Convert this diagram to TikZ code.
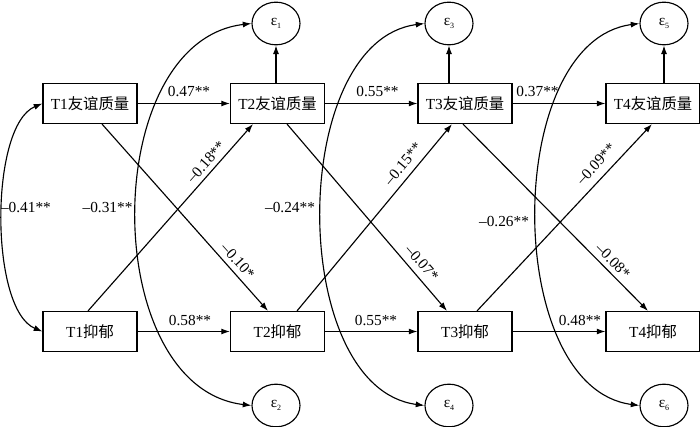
\documentclass[tikz,border=0pt]{standalone}
\usepackage{fontspec}
\setmainfont{Liberation Serif}
\newfontfamily\cjk{Noto Sans CJK SC}
\usetikzlibrary{arrows.meta,shapes.geometric,calc}
\newcommand\epsl[1]{ε\raisebox{-2pt}{\fontsize{6}{6}\selectfont #1}}
\begin{document}
\begin{tikzpicture}[x=0.75pt,y=-0.75pt,
  box/.style={draw,line width=0.85pt,minimum width=70.5pt,minimum height=30pt,inner sep=0pt,font=\fontsize{11.5}{13}\selectfont},
  err/.style={draw,ellipse,line width=0.85pt,minimum width=36pt,minimum height=32pt,inner sep=0pt,font=\fontsize{11.5}{13}\selectfont},
  lab/.style={inner sep=0pt,font=\fontsize{11.5}{13}\selectfont},
  arr/.style={line width=0.85pt,-{Latex[length=6.5pt,width=4.5pt]}},
  cov/.style={line width=0.85pt,{Latex[length=6.5pt,width=4.5pt]}-{Latex[length=6.5pt,width=4.5pt]}},
]
\useasboundingbox (0,0) rectangle (700,427);
% boxes
\node[box] (f1) at (90,103.5) {T1{\cjk 友谊质量}};
\node[box] (f2) at (277.5,103.5) {T2{\cjk 友谊质量}};
\node[box] (f3) at (465,103.5) {T3{\cjk 友谊质量}};
\node[box] (f4) at (653,103.5) {T4{\cjk 友谊质量}};
\node[box] (d1) at (90,331.5) {T1{\cjk 抑郁}};
\node[box] (d2) at (277.5,331.5) {T2{\cjk 抑郁}};
\node[box] (d3) at (465,331.5) {T3{\cjk 抑郁}};
\node[box] (d4) at (653,331.5) {T4{\cjk 抑郁}};
% error terms
\node[err] (e1) at (276,23.5) {\epsl{1}};
\node[err] (e3) at (449,23.5) {\epsl{3}};
\node[err] (e5) at (664,23.5) {\epsl{5}};
\node[err] (e2) at (276,405.5) {\epsl{2}};
\node[err] (e4) at (449,405.5) {\epsl{4}};
\node[err] (e6) at (664,405.5) {\epsl{6}};
% horizontal paths
\draw[arr] (f1) -- (f2);
\draw[arr] (f2) -- (f3);
\draw[arr] (f3) -- (f4);
\draw[arr] (d1) -- (d2);
\draw[arr] (d2) -- (d3);
\draw[arr] (d3) -- (d4);
% cross-lagged paths
\draw[arr] ($(f1.south)+(12,0)$) -- ($(d2.north)+(-9.5,0)$);
\draw[arr] ($(d1.north)+(-2,0)$) -- ($(f2.south)+(-24.5,0)$);
\draw[arr] ($(f2.south)+(9.5,0)$) -- ($(d3.north)+(-18,0)$);
\draw[arr] ($(d2.north)+(19.5,0)$) -- ($(f3.south)+(-13,0)$);
\draw[arr] ($(f3.south)+(-2,0)$) -- ($(d4.north)+(-5,0)$);
\draw[arr] ($(d3.north)+(12,0)$) -- ($(f4.south)+(-1,0)$);
% to error terms
\draw[arr] (f2.north -| e1) -- (e1.south);
\draw[arr] (f3.north -| e3) -- (e3.south);
\draw[arr] (f4.north -| e5) -- (e5.south);
% covariances
\draw[cov] (f1.west) .. controls +(-53,22) and +(-53,-22) .. (d1.west);
\draw[cov] (e1.west) .. controls +(-153,18) and +(-153,-18) .. (e2.west);
\draw[cov] (e3.west) .. controls +(-137,18) and +(-137,-18) .. (e4.west);
\draw[cov] (e5.west) .. controls +(-137,18) and +(-137,-18) .. (e6.west);
% labels
\node[lab] (l47) at (189,92) {0.47**};
\node[lab] (l55a) at (377.5,92) {0.55**};
\node[lab] (l37) at (537.5,92) {0.37**};
\node[lab] (l58) at (190,321) {0.58**};
\node[lab] (l55b) at (376,321) {0.55**};
\node[lab] (l48) at (580,321) {0.48**};
\node[lab] (l41) at (26,208) {–0.41**};
\node[lab] (l31) at (107.5,208) {–0.31**};
\node[lab] (l24) at (290,208) {–0.24**};
\node[lab] (l26) at (504,222) {–0.26**};
\node[lab,rotate=48.4] (l18) at (206,162) {–0.18**};
\node[lab,rotate=-48.1] (l10) at (238,261) {–0.10*};
\node[lab,rotate=50.2] (l15) at (403,164) {–0.15**};
\node[lab,rotate=-49.1] (l07) at (422,263) {–0.07*};
\node[lab,rotate=47.1] (l09) at (596,164) {–0.09**};
\node[lab,rotate=-45.2] (l08) at (613,261) {–0.08*};
\end{tikzpicture}
\end{document}
